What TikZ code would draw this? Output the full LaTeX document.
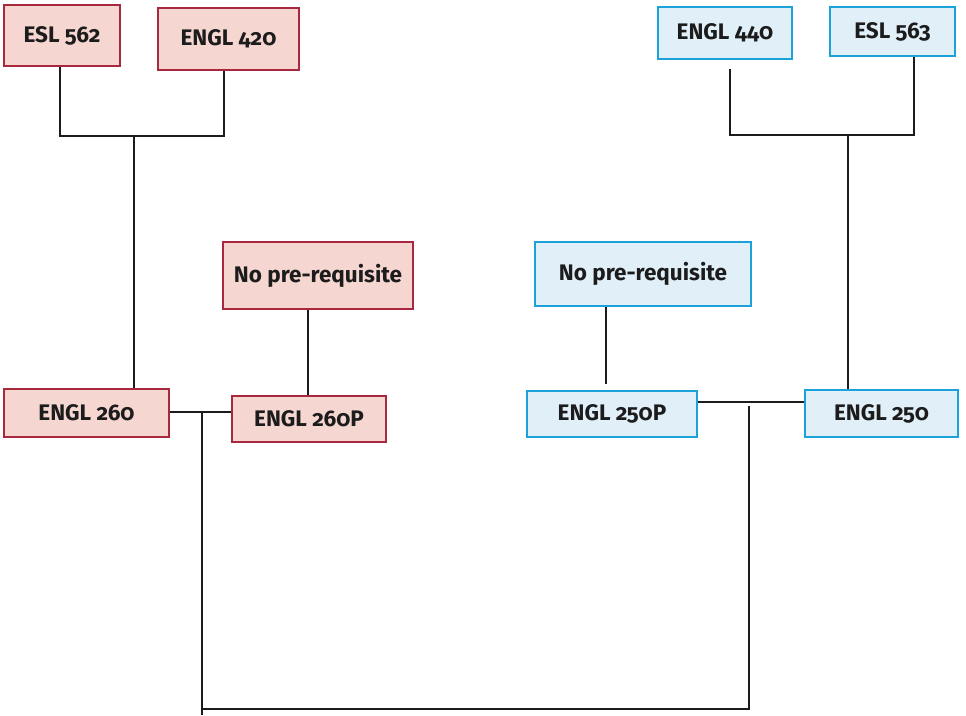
\documentclass[tikz,border=0pt]{standalone}
\usepackage{fontspec}
\setmainfont{Fira Sans}[Numbers=OldStyle]
\definecolor{redfill}{HTML}{F5D6D1}
\definecolor{redline}{HTML}{A8283E}
\definecolor{bluefill}{HTML}{E1F0F8}
\definecolor{blueline}{HTML}{1BA3D9}
\definecolor{ink}{HTML}{1C1C1C}
\tikzset{
  box/.style={draw, line width=2.4pt, inner sep=0pt, text=ink,
    font=\fontsize{22.5}{26}\selectfont\bfseries},
  redbox/.style={box, draw=redline, fill=redfill},
  bluebox/.style={box, draw=blueline, fill=bluefill},
  conn/.style={draw=ink, line width=2.7pt}
}
\begin{document}
\begin{tikzpicture}[x=1pt,y=-1pt]
\useasboundingbox (0,0) rectangle (966,715);
% boxes
\node[redbox, minimum width=116pt, minimum height=61pt] (esl562) at (62,35.5) {ESL 562};
\node[redbox, minimum width=141pt, minimum height=62pt] (engl420) at (228.5,39) {ENGL 420};
\node[bluebox, minimum width=134pt, minimum height=52pt] (engl440) at (725,33) {ENGL 440};
\node[bluebox, minimum width=125pt, minimum height=49pt] (esl563) at (892.5,31.5) {ESL 563};
\node[redbox, minimum width=190pt, minimum height=67pt] (noreqR) at (318,275.5) {No pre-requisite};
\node[redbox, minimum width=165pt, minimum height=48pt] (engl260) at (86.5,413) {ENGL 260};
\node[redbox, minimum width=154pt, minimum height=46pt] (engl260p) at (309,419) {ENGL 260P};
\node[bluebox, minimum width=216pt, minimum height=64pt] (noreqB) at (643,274) {No pre-requisite};
\node[bluebox, minimum width=170pt, minimum height=46pt] (engl250p) at (612,414) {ENGL 250P};
\node[bluebox, minimum width=153pt, minimum height=47pt] (engl250) at (881.5,413.5) {ENGL 250};
% left tree
\coordinate (jl) at (134,136);
\draw[conn] ([xshift=-2pt]esl562.south) |- (jl) -| ([xshift=-4.5pt]engl420.south);
\draw[conn] (jl) -- (jl |- engl260.north);
% right tree
\coordinate (jr) at (848,135);
\draw[conn] ([xshift=5pt,yshift=-9pt]engl440.south) |- (jr) -| ([xshift=21.5pt]esl563.south);
\draw[conn] (jr) -- (jr |- engl250.north);
% no prerequisite links
\coordinate (nr) at ([xshift=-10pt]noreqR.south);
\draw[conn] (nr) -- (nr |- engl260p.north);
\coordinate (nb) at ([xshift=-37pt]noreqB.south);
\draw[conn, shorten >=6pt] (nb) -- (nb |- engl250p.north);
% pair links
\draw[conn] ([yshift=1pt]engl260.east) -- ([yshift=1pt]engl260.east -| engl260p.west);
\draw[conn] ([yshift=12pt]engl250p.east) -- ([yshift=12pt]engl250p.east -| engl250.west);
% bottom link
\coordinate (jb) at (202,412);
\coordinate (bl) at (202,709);
\coordinate (br) at (749,709);
\coordinate (jt) at (749,406);
\draw[conn] (jb) -- ([yshift=-6pt]bl);
\draw[conn] (bl) -- (br) -- (jt);
\end{tikzpicture}
\end{document}
